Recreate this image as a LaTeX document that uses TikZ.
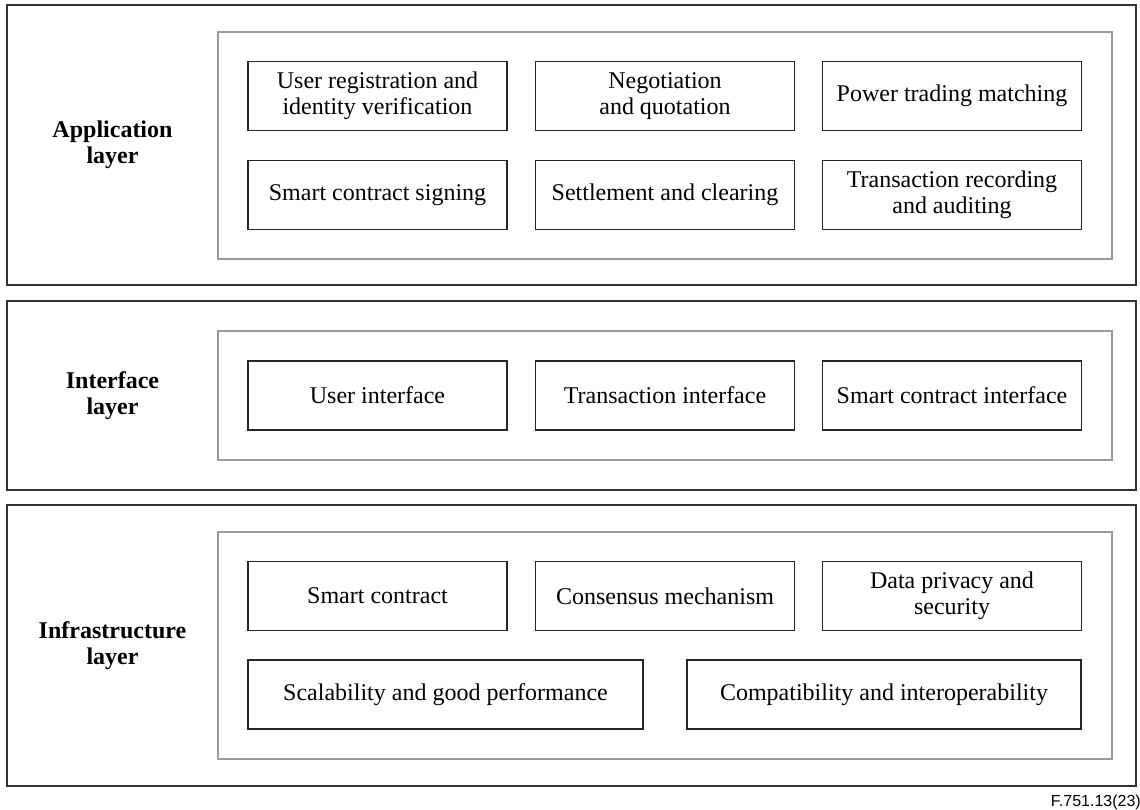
\documentclass[tikz,border=0pt]{standalone}
\usepackage{fontspec}
\setmainfont{Liberation Serif}
\newfontfamily\capfont{Liberation Sans}
\begin{document}
\begin{tikzpicture}[x=1pt,y=-1pt,
  layerbox/.style={draw=black!80, line width=2pt, inner sep=0pt},
  groupbox/.style={draw=black!40, line width=1.8pt, inner sep=0pt, minimum width=894pt},
  item/.style={draw=black!85, line width=1.6pt, inner sep=0pt, align=center,
    minimum width=259pt, minimum height=69pt, font=\fontsize{24}{26}\selectfont},
  layerlabel/.style={align=center, font=\fontsize{24}{26}\selectfont\bfseries}]
\useasboundingbox (0,0) rectangle (1140,809);
% outer layers
\node[layerbox, minimum width=1129pt, minimum height=280pt] (app) at (571.5,145) {};
\node[layerbox, minimum width=1129pt, minimum height=189pt] (ifc) at (571.5,395.5) {};
\node[layerbox, minimum width=1129pt, minimum height=281pt] (inf) at (571.5,645.5) {};
% groups
\node[groupbox, minimum height=227pt] (appg) at (665,145.5) {};
\node[groupbox, minimum height=129pt] (ifcg) at (665,395.5) {};
\node[groupbox, minimum height=227pt] (infg) at (665,645.5) {};
% labels
\node[layerlabel] (appl) at (112.5,145) {Application\\layer};
\node[layerlabel] (ifcl) at (112.5,395.5) {Interface\\layer};
\node[layerlabel] (infl) at (112.5,645.5) {Infrastructure\\layer};
% application items
\node[item] (a1) at (377.5,96) {User registration and\\identity verification};
\node[item] (a2) at (665,96) {Negotiation\\and quotation};
\node[item] (a3) at (952,96) {Power trading matching};
\node[item] (a4) at (377.5,195) {Smart contract signing};
\node[item] (a5) at (665,195) {Settlement and clearing};
\node[item] (a6) at (952,195) {Transaction recording\\and auditing};
% interface items
\node[item] (i1) at (377.5,395.5) {User interface};
\node[item] (i2) at (665,395.5) {Transaction interface};
\node[item] (i3) at (952,395.5) {Smart contract interface};
% infrastructure items
\node[item] (f1) at (377.5,596) {Smart contract};
\node[item] (f2) at (665,596) {Consensus mechanism};
\node[item] (f3) at (952,596) {Data privacy and\\security};
\node[item, minimum width=395pt] (f4) at (445.5,694.5) {Scalability and good performance};
\node[item, minimum width=394pt] (f5) at (884,694.5) {Compatibility and interoperability};
% caption
\node[anchor=base east, inner sep=0pt, font=\capfont\fontsize{16}{18}\selectfont] (cap) at (1141,806) {F.751.13(23)};
\end{tikzpicture}
\end{document}
